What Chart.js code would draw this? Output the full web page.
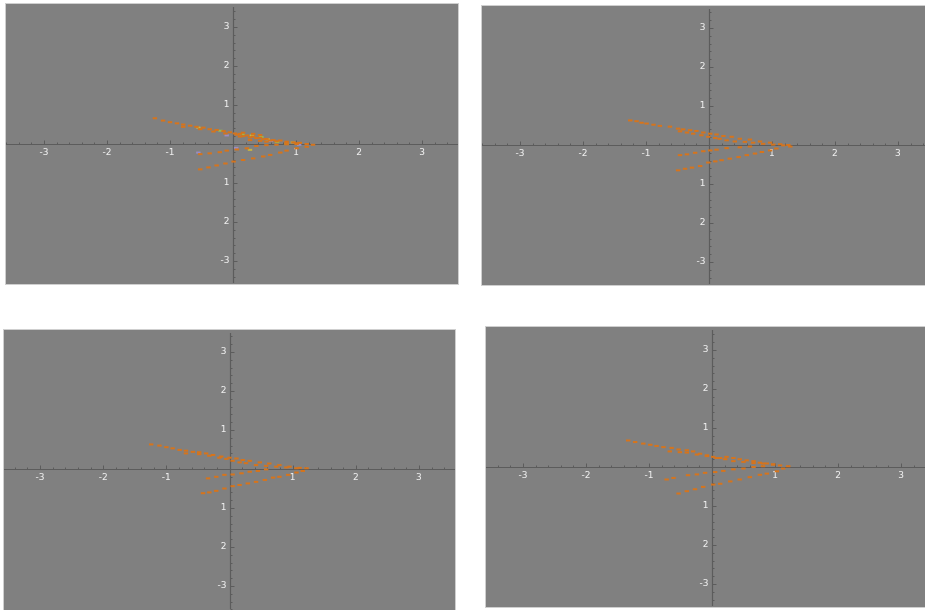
<!DOCTYPE html>
<html>
<head>
<meta charset="utf-8">
<script src="https://cdn.jsdelivr.net/npm/chart.js@4.4.6/dist/chart.umd.js"></script>
<style>
  html, body { margin: 0; padding: 0; background: #fff; }
  body { width: 925px; height: 610px; position: relative; overflow: hidden; }
  .panel { position: absolute; background: #808080; box-shadow: 0 0 0 1px #cfcfcf; }
</style>
</head>
<body>
<div class="panel" id="p1"><canvas id="c1"></canvas></div>
<div class="panel" id="p2"><canvas id="c2"></canvas></div>
<div class="panel" id="p3"><canvas id="c3"></canvas></div>
<div class="panel" id="p4"><canvas id="c4"></canvas></div>
<script>
// tick values and labels (as printed in the picture)
const xTicks = [-3, -2, -1, 1, 2, 3];
const xTickLabels = ['-3', '-2', '-1', '1', '2', '3'];
const yTicks = [3, 2, 1, -1, -2, -3];
const yTickLabels = ['3', '2', '1', '1', '2', '-3'];

// top-left panel
const panel1X = [
  -1.24, -1.11, -1.00, -0.89, -0.79, -0.68, -0.58, -0.47, -0.37, -0.26, -0.15, -0.05, 0.03,
  0.11, 0.22, 0.32, 0.43, 0.53, 0.64, 0.75, 0.85, 0.96, 1.06, 1.17, 1.27,
  -0.79, -0.52, -0.31, -0.12, 0.06, 0.16, 0.27, 0.37, 0.48, 0.59, 0.69, 0.85, 1.01,
  0.11, 0.27, 0.43, 0.53, 0.16, 0.32, 0.43,
  -0.52, -0.37, -0.21, -0.10, 0.06, 0.22, 0.37, 0.53, 0.69, 0.85, 1.01,
  -0.52, -0.39, -0.26, -0.12, 0.01, 0.16, 0.32, 0.48, 0.59, 0.75, 0.85, 1.01, 1.17
];
const panel1Y = [
  0.66, 0.60, 0.56, 0.53, 0.50, 0.47, 0.44, 0.42, 0.38, 0.36, 0.33, 0.30, 0.27,
  0.26, 0.22, 0.19, 0.16, 0.13, 0.10, 0.09, 0.06, 0.04, 0.03, 0.00, -0.02,
  0.44, 0.38, 0.32, 0.27, 0.24, 0.20, 0.17, 0.15, 0.12, 0.09, 0.07, 0.03, 0.02,
  0.19, 0.10, 0.08, 0.06, 0.29, 0.26, 0.23,
  -0.26, -0.24, -0.21, -0.17, -0.14, -0.11, -0.05, -0.03, -0.02, -0.01, 0.00,
  -0.65, -0.60, -0.55, -0.50, -0.45, -0.41, -0.37, -0.32, -0.28, -0.22, -0.17, -0.11, -0.07
];
const panel1YellowX = [0.30, 0.55, 0.27, 0.95, -0.55];
const panel1YellowY = [0.22, 0.12, -0.15, 0.04, 0.42];
const panel1GreenX = [0.45, 0.70, 0.15, -0.20, 0.85];
const panel1GreenY = [0.18, 0.05, 0.25, 0.34, 0.00];
const panel1PurpleX = [-0.10, 0.60, -0.55, 0.05, 1.05];
const panel1PurpleY = [0.22, 0.08, -0.22, -0.10, -0.02];

// top-right panel
const panel2X = [
  -1.25, -1.15, -1.07, -0.99, -0.88, -0.78, -0.62, -0.49, -0.41, -0.30, -0.20, -0.09, 0.02,
  0.12, 0.23, 0.36, 0.49, 0.65, 0.81, 0.97, 1.13, 1.26, 1.29,
  -0.46, -0.35, -0.25, -0.12, -0.01, 0.10, 0.17, 0.28, 0.41, 0.57, 0.70, 0.86, 1.02,
  -0.46, -0.35, -0.22, -0.09, 0.02, 0.12, 0.28, 0.49, 0.65,
  -0.49, -0.38, -0.27, -0.14, -0.01, 0.10, 0.20, 0.33, 0.47, 0.60, 0.73, 0.84, 0.97, 1.07, 1.18
];
const panel2Y = [
  0.63, 0.61, 0.57, 0.55, 0.52, 0.49, 0.47, 0.42, 0.40, 0.38, 0.36, 0.32, 0.29,
  0.27, 0.23, 0.21, 0.16, 0.14, 0.09, 0.06, 0.02, 0.00, -0.04,
  0.35, 0.32, 0.29, 0.25, 0.21, 0.18, 0.16, 0.12, 0.09, 0.08, 0.06, 0.03, 0.01,
  -0.26, -0.24, -0.20, -0.16, -0.14, -0.12, -0.08, -0.06, -0.04,
  -0.65, -0.61, -0.58, -0.54, -0.45, -0.42, -0.39, -0.35, -0.31, -0.26, -0.22, -0.18, -0.14, -0.09, -0.01
];

// bottom-left panel
const panel3X = [
  -1.24, -1.11, -1.00, -0.90, -0.79, -0.69, -0.58, -0.48, -0.37, -0.26, -0.13, 0.00,
  0.11, 0.21, 0.32, 0.48, 0.63, 0.79, 0.95, 1.11, 1.22,
  -0.69, -0.48, -0.32, -0.16, -0.05, 0.05, 0.16, 0.26, 0.42, 0.58, 0.74, 0.90, 1.06,
  -0.34, -0.21, -0.08, 0.05, 0.19, 0.32, 0.45, 0.58,
  -0.42, -0.32, -0.21, -0.08, 0.05, 0.16, 0.29, 0.42, 0.56, 0.69, 0.79, 0.93, 1.06, 1.16
];
const panel3Y = [
  0.63, 0.60, 0.56, 0.53, 0.49, 0.47, 0.44, 0.43, 0.40, 0.36, 0.32, 0.29,
  0.27, 0.23, 0.21, 0.17, 0.14, 0.10, 0.06, 0.03, 0.02,
  0.40, 0.38, 0.34, 0.29, 0.26, 0.21, 0.17, 0.15, 0.10, 0.08, 0.06, 0.04, 0.02,
  -0.24, -0.20, -0.15, -0.14, -0.11, -0.07, -0.05, -0.01,
  -0.62, -0.60, -0.56, -0.50, -0.44, -0.41, -0.37, -0.33, -0.28, -0.22, -0.20, -0.15, -0.09, -0.05
];

// bottom-right panel
const panel4X = [
  -1.33, -1.22, -1.09, -0.98, -0.88, -0.77, -0.64, -0.53, -0.40, -0.30, -0.19, -0.08,
  0.02, 0.13, 0.23, 0.34, 0.44, 0.55, 0.66, 0.76, 0.87, 0.97, 1.08, 1.21,
  -0.67, -0.51, -0.40, -0.24, -0.08, 0.07, 0.21, 0.34, 0.50, 0.66, 0.81, 0.97,
  -0.72, -0.61, -0.38, -0.24, -0.11, 0.05, 0.18, 0.34, 0.50, 0.66, 0.81,
  -0.53, -0.40, -0.27, -0.14, 0.02, 0.13, 0.29, 0.44, 0.60, 0.76, 0.87, 1.03, 1.13
];
const panel4Y = [
  0.68, 0.64, 0.60, 0.57, 0.54, 0.51, 0.49, 0.45, 0.43, 0.40, 0.34, 0.30,
  0.26, 0.23, 0.26, 0.23, 0.20, 0.17, 0.15, 0.11, 0.09, 0.06, 0.04, 0.02,
  0.40, 0.38, 0.37, 0.32, 0.28, 0.23, 0.20, 0.15, 0.13, 0.10, 0.09, 0.07,
  -0.32, -0.28, -0.21, -0.19, -0.15, -0.13, -0.10, -0.06, -0.04, 0.00, 0.02,
  -0.68, -0.62, -0.57, -0.51, -0.45, -0.43, -0.37, -0.32, -0.26, -0.20, -0.17, -0.11, -0.04
];

const orange = '#d6741c';

const toPoints = (xs, ys) => xs.map((x, i) => ({ x, y: ys[i] }));

const panels = [
  { id: 'p1', canvas: 'c1', left: 6, top: 4, w: 452, h: 280, xr: [-3.603, 3.571], yr: [-3.59, 3.59],
    series: [
      [panel1X, panel1Y, orange],
      [panel1YellowX, panel1YellowY, '#c9b53e'],
      [panel1GreenX, panel1GreenY, '#9cb84c'],
      [panel1PurpleX, panel1PurpleY, '#9b8cc4']
    ] },
  { id: 'p2', canvas: 'c2', left: 482, top: 6, w: 443, h: 279, xr: [-3.603, 3.429], yr: [-3.59, 3.564],
    series: [[panel2X, panel2Y, orange]] },
  { id: 'p3', canvas: 'c3', left: 4, top: 330, w: 451, h: 280, xr: [-3.571, 3.571], yr: [-3.615, 3.564],
    series: [[panel3X, panel3Y, orange]] },
  { id: 'p4', canvas: 'c4', left: 486, top: 327, w: 439, h: 280, xr: [-3.587, 3.381], yr: [-3.59, 3.59],
    series: [[panel4X, panel4Y, orange]] }
];

const axisColor = '#5c5c5c';

const mathAxes = {
  id: 'mathAxes',
  beforeDatasetsDraw(chart) {
    const { ctx, chartArea: area, scales: { x, y } } = chart;
    const x0 = Math.round(x.getPixelForValue(0)) + 0.5;
    const y0 = Math.round(y.getPixelForValue(0)) + 0.5;
    ctx.save();
    ctx.strokeStyle = axisColor;
    ctx.lineWidth = 1.2;
    ctx.beginPath();
    ctx.moveTo(area.left, y0);
    ctx.lineTo(area.right, y0);
    ctx.moveTo(x0, area.top + 3);
    ctx.lineTo(x0, area.bottom - 1);
    ctx.stroke();

    // minor ticks every 0.2, major at integers
    ctx.lineWidth = 1;
    ctx.beginPath();
    for (let k = -18; k <= 18; k++) {
      const v = k / 5;
      const major = k % 5 === 0;
      const len = major ? 4 : 2;
      const px = Math.round(x.getPixelForValue(v)) + 0.5;
      if (px > area.left && px < area.right && k !== 0) {
        ctx.moveTo(px, y0);
        ctx.lineTo(px, y0 - len);
      }
      const py = Math.round(y.getPixelForValue(v)) + 0.5;
      if (py > area.top + 3 && py < area.bottom && k !== 0) {
        ctx.moveTo(x0, py);
        ctx.lineTo(x0 + len, py);
      }
    }
    ctx.stroke();

    ctx.fillStyle = '#eeeeee';
    ctx.font = '9px "DejaVu Sans", sans-serif';
    ctx.textAlign = 'center';
    ctx.textBaseline = 'middle';
    xTicks.forEach((v, i) => {
      ctx.fillText(xTickLabels[i], x.getPixelForValue(v), y0 + 8);
    });
    ctx.textAlign = 'right';
    yTicks.forEach((v, i) => {
      ctx.fillText(yTickLabels[i], x0 - 4, y.getPixelForValue(v));
    });
    ctx.restore();
  }
};

panels.forEach((p) => {
  const box = document.getElementById(p.id);
  box.style.left = `${p.left}px`;
  box.style.top = `${p.top}px`;
  box.style.width = `${p.w}px`;
  box.style.height = `${p.h}px`;

  new Chart(document.getElementById(p.canvas), {
    type: 'scatter',
    data: {
      datasets: p.series.map(([xs, ys, color]) => ({
        data: toPoints(xs, ys),
        pointStyle: 'line',
        pointRadius: 2.2,
        pointBorderWidth: 2,
        borderColor: color,
        backgroundColor: color
      }))
    },
    options: {
      responsive: true,
      maintainAspectRatio: false,
      animation: false,
      layout: { padding: 0, autoPadding: false },
      scales: {
        x: { type: 'linear', min: p.xr[0], max: p.xr[1], display: false },
        y: { type: 'linear', min: p.yr[0], max: p.yr[1], display: false }
      },
      plugins: {
        legend: { display: false },
        tooltip: { enabled: false }
      }
    },
    plugins: [mathAxes]
  });
});
</script>
</body>
</html>
